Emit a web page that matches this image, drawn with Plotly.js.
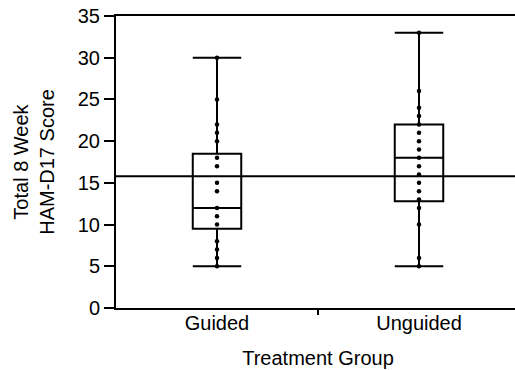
<!DOCTYPE html>
<html>
<head>
<meta charset="utf-8">
<script src="https://cdn.plot.ly/plotly-3.0.1.min.js"></script>
<style>
html, body { margin: 0; padding: 0; overflow: hidden; background: #fff; width: 515px; height: 370px; }
#chart { width: 525px; height: 370px; }
</style>
</head>
<body>
<div id="chart"></div>
<script>
// ---- data ----
const groups = ['Guided', 'Unguided'];
const q1Values = [9.5, 12.8];
const medianValues = [12, 18];
const q3Values = [18.5, 22];
const minValues = [5, 5];
const maxValues = [30, 33];
const guidedPoints = [30, 25, 22, 21, 20, 18, 17, 15, 14, 12, 11, 10, 8, 7, 6, 5];
const unguidedPoints = [33, 26, 24, 23, 22, 21, 20, 19, 18, 17, 16, 15, 14, 13, 12, 10, 6, 5];
const overallMean = 15.8;
const yTickVals = [0, 5, 10, 15, 20, 25, 30, 35];
const xTitle = 'Treatment Group';
const yTitle = 'Total 8 Week<br>HAM-D17 Score';

const FONT = 'Liberation Sans, Arial, sans-serif';
const FS = 20;

const traces = [
  {
    type: 'box',
    x: groups,
    q1: q1Values,
    median: medianValues,
    q3: q3Values,
    lowerfence: minValues,
    upperfence: maxValues,
    boxpoints: false,
    width: 0.24,
    whiskerwidth: 1,
    fillcolor: 'rgba(255,255,255,0)',
    line: { color: '#000', width: 2 },
    hoverinfo: 'skip',
    showlegend: false
  },
  {
    type: 'scatter',
    mode: 'markers',
    x: guidedPoints.map(() => groups[0]),
    y: guidedPoints,
    marker: { color: '#000', size: 4.5 },
    showlegend: false
  },
  {
    type: 'scatter',
    mode: 'markers',
    x: unguidedPoints.map(() => groups[1]),
    y: unguidedPoints,
    marker: { color: '#000', size: 4.5 },
    showlegend: false
  },
  {
    type: 'scatter',
    mode: 'lines',
    x: [-0.5, 1.5],
    y: [overallMean, overallMean],
    xaxis: 'x2',
    line: { color: '#000', width: 2 },
    showlegend: false
  }
];

const layout = {
  width: 525,
  height: 370,
  margin: { l: 116, r: 5, t: 16, b: 62 },
  paper_bgcolor: '#fff',
  plot_bgcolor: '#fff',
  font: { family: FONT, size: FS, color: '#000' },
  xaxis: {
    type: 'category',
    range: [-0.5, 1.5],
    showline: true,
    linecolor: '#000',
    linewidth: 2,
    mirror: true,
    ticks: '',
    ticklabelstandoff: -4,
    showgrid: false,
    zeroline: false,
    tickfont: { family: FONT, size: FS, color: '#000' },
    title: { text: xTitle, font: { family: FONT, size: FS, color: '#000' }, standoff: 18 },
    automargin: false
  },
  xaxis2: {
    overlaying: 'x',
    range: [-0.5, 1.5],
    tickvals: [0.5],
    ticks: 'outside',
    ticklen: 6,
    tickwidth: 2,
    tickcolor: '#000',
    showticklabels: false,
    showline: false,
    showgrid: false,
    zeroline: false,
    side: 'bottom'
  },
  yaxis: {
    range: [0, 35],
    tickvals: yTickVals,
    ticks: 'outside',
    ticklen: 10,
    tickwidth: 2,
    tickcolor: '#000',
    showline: true,
    linecolor: '#000',
    linewidth: 2,
    showgrid: false,
    zeroline: false,
    tickfont: { family: FONT, size: FS, color: '#000' },
    title: { text: yTitle, font: { family: FONT, size: FS, color: '#000' }, standoff: 18 },
    automargin: false
  }
};

Plotly.newPlot('chart', traces, layout, { displayModeBar: false, staticPlot: true });
</script>
</body>
</html>
